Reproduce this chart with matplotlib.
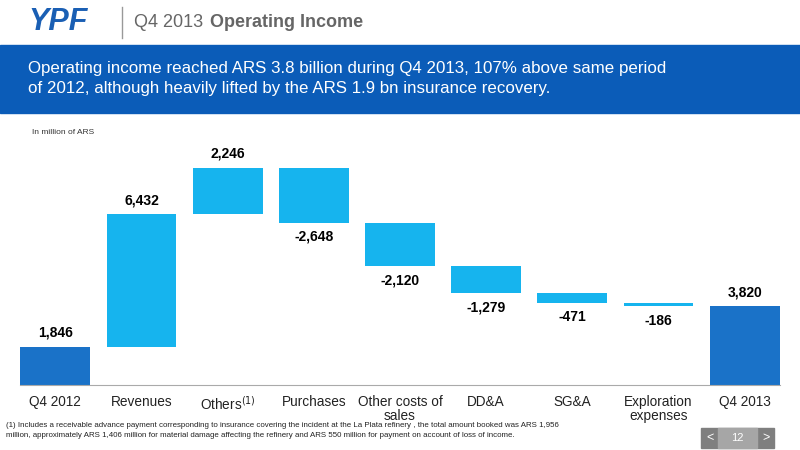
import matplotlib
matplotlib.use("Agg")
from matplotlib import pyplot as plt
from matplotlib.patches import Rectangle

plt.rcParams['font.family'] = ['Liberation Sans', 'DejaVu Sans']

categories = ["Q4 2012", "Revenues", "Others$^{(1)}$", "Purchases", "Other costs of\nsales",
              "DD&A", "SG&A", "Exploration\nexpenses", "Q4 2013"]
changes = [1846, 6432, 2246, -2648, -2120, -1279, -471, -186]
final_value = 3820
labels = ["1,846", "6,432", "2,246", "-2,648", "-2,120", "-1,279", "-471", "-186", "3,820"]

dark = "#1A72C8"
light = "#16B4EE"

fig = plt.figure(figsize=(8, 4.5), dpi=100)

# header
fig.text(0.035, 0.95, "YPF", color="#1A5FB4", fontsize=22, fontweight="bold", va="center",
         style="italic")
fig.add_artist(plt.Line2D([0.152, 0.152], [0.915, 0.985], color="#999999", lw=1))
fig.text(0.168, 0.95, "Q4 2013", color="#666666", fontsize=13, va="center")
fig.text(0.262, 0.95, "Operating Income", color="#666666", fontsize=13, va="center",
         fontweight="bold")
fig.add_artist(Rectangle((0, 0.75), 1, 0.15, transform=fig.transFigure, color="#0B5CB8"))
fig.text(0.035, 0.825, "Operating income reached ARS 3.8 billion during Q4 2013, 107% above same period\n"
         "of 2012, although heavily lifted by the ARS 1.9 bn insurance recovery.",
         color="white", fontsize=12.2, va="center", linespacing=1.45)
fig.text(0.04, 0.703, "In million of ARS", fontsize=6, color="#333333")

ax = fig.add_axes([0.025, 0.144, 0.95, 0.545])
running = 0
for i, ch in enumerate(changes):
    if i == 0:
        ax.bar(i, ch, width=0.81, color=dark)
        top, bottom = ch, 0
        running = ch
    else:
        new = running + ch
        ax.bar(i, ch, bottom=running, width=0.81, color=light)
        top, bottom = max(running, new), min(running, new)
        running = new
    if ch >= 0:
        ax.text(i, top + 350, labels[i], ha="center", va="bottom", fontsize=10, fontweight="bold")
    else:
        ax.text(i, bottom - 350, labels[i], ha="center", va="top", fontsize=10, fontweight="bold")
n = len(changes)
ax.bar(n, final_value, width=0.81, color=dark)
ax.text(n, final_value + 350, labels[n], ha="center", va="bottom", fontsize=10, fontweight="bold")

ax.set_xlim(-0.41, n + 0.41)
ax.set_ylim(0, 11880)
ax.set_yticks([])
ax.set_xticks(range(n + 1))
ax.set_xticklabels(categories, fontsize=9.8, color="#222222", linespacing=1.05)
ax.tick_params(axis="x", length=0, pad=7)
for s in ["top", "right", "left"]:
    ax.spines[s].set_visible(False)
ax.spines["bottom"].set_color("#AAAAAA")

fig.text(0.007, 0.025, "(1) Includes a receivable advance payment corresponding to insurance covering the incident at the La Plata refinery , the total amount booked was ARS 1,956\n"
         "million, approximately ARS 1,406 million for material damage affecting the refinery and ARS 550 million for payment on account of loss of income.",
         fontsize=5.65, color="#222222", va="bottom", linespacing=1.5)

# page number boxes
fig.add_artist(Rectangle((0.876, 0.005), 0.092, 0.045, transform=fig.transFigure, color="#7F7F7F"))
fig.add_artist(Rectangle((0.898, 0.005), 0.048, 0.045, transform=fig.transFigure, color="#A6A6A6"))
fig.text(0.887, 0.027, "<", color="white", fontsize=9, ha="center", va="center")
fig.text(0.922, 0.027, "12", color="white", fontsize=8, ha="center", va="center")
fig.text(0.957, 0.027, ">", color="white", fontsize=9, ha="center", va="center")

fig.savefig("out.png", dpi=100)
